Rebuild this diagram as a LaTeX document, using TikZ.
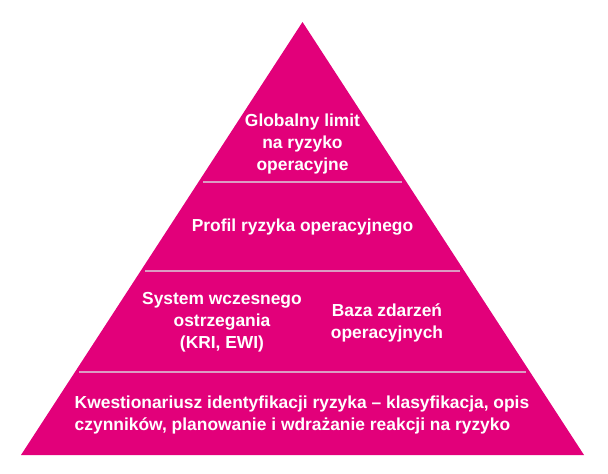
\documentclass[tikz,border=0pt]{standalone}
\usepackage{fontspec}
\setmainfont{Liberation Sans}
\usetikzlibrary{positioning}
\definecolor{rozowy}{RGB}{226,0,122}
\definecolor{jasnyroz}{RGB}{220,155,195}
\tikzstyle{napis} = [text=white, font=\bfseries\fontsize{17.4}{22}\selectfont, align=center, inner sep=0pt]
\tikzstyle{przegroda} = [draw=jasnyroz, line width=2pt]

\begin{document}
\begin{tikzpicture}[x=1pt,y=-1pt]
	\useasboundingbox (0,0) rectangle (608,474);
	\coordinate (szczyt) at (302.5,22);
	\coordinate (lewy) at (21,455);
	\coordinate (prawy) at (584,455);
	\fill[rozowy] (szczyt) -- (lewy) -- (prawy) -- cycle;
	\draw[przegroda] (203,182) -- (402,182);
	\draw[przegroda] (145,271) -- (460,271);
	\draw[przegroda] (79,372) -- (526,372);
	\node[napis] (limit) at (302.5,144) {Globalny limit\\na ryzyko\\operacyjne};
	\node[napis] (profil) at (302.5,227) {Profil ryzyka operacyjnego};
	\node[napis] (system) at (222,322) {System wczesnego\\ostrzegania\\(KRI, EWI)};
	\node[napis] (baza) at (387,323) {Baza zdarzeń\\operacyjnych};
	\node[napis, align=left] (kwestionariusz) at (302,415) {Kwestionariusz identyfikacji ryzyka – klasyfikacja, opis\\czynników, planowanie i wdrażanie reakcji na ryzyko};
\end{tikzpicture}
\end{document}
